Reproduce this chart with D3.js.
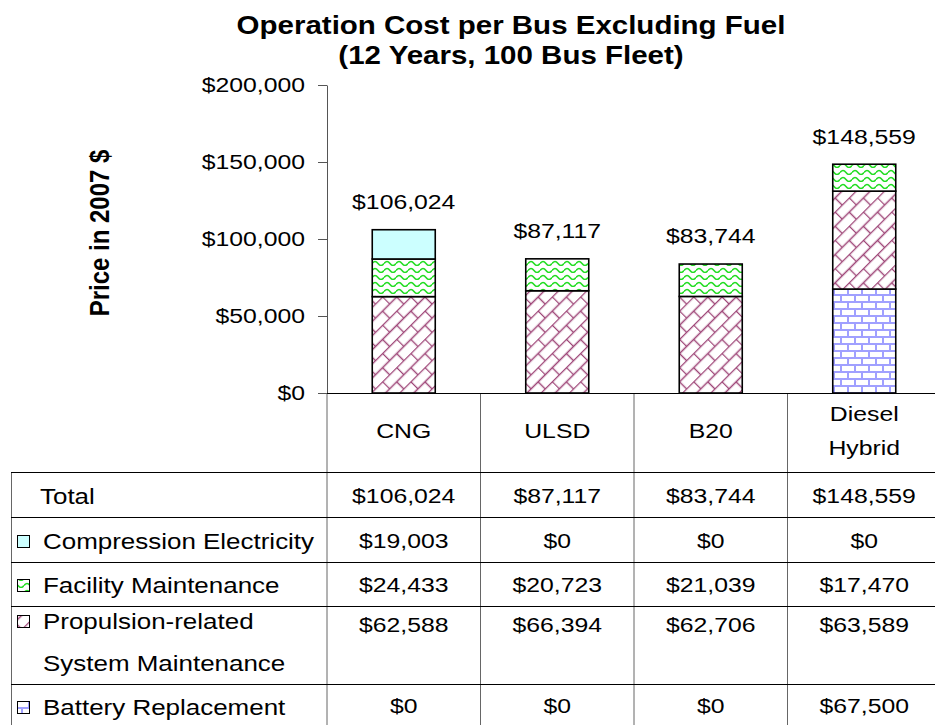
<!DOCTYPE html>
<html>
<head>
<meta charset="utf-8">
<script src="https://cdn.jsdelivr.net/npm/d3@7"></script>
<style>
  body { margin: 0; background: #fff; }
  text { font-family: "Liberation Sans", Arial, sans-serif; fill: #000; }
</style>
</head>
<body>
<svg id="chart" width="935" height="725"></svg>
<script>
// ---- data ----
var categories  = ["CNG", "ULSD", "B20", "Diesel Hybrid"];
var compression = [19003, 0, 0, 0];
var facility    = [24433, 20723, 21039, 17470];
var propulsion  = [62588, 66394, 62706, 63589];
var battery     = [0, 0, 0, 67500];
var totals      = [106024, 87117, 83744, 148559];
var yTicks      = [0, 50000, 100000, 150000, 200000];

var seriesNames = {
	compression: ["Compression Electricity"],
	facility: ["Facility Maintenance"],
	propulsion: ["Propulsion-related", "System Maintenance"],
	battery: ["Battery Replacement"]
};
var stackKeys = ["battery", "propulsion", "facility", "compression"];   // bottom -> top
var tableKeys = ["compression", "facility", "propulsion", "battery"];   // table order

var rows = categories.map(function(c, i) {
	return { cat: c, compression: compression[i], facility: facility[i],
		propulsion: propulsion[i], battery: battery[i], total: totals[i] };
});

// ---- layout ----
var SX = 1.18;               // the original is stretched horizontally
var svg = d3.select("#chart");
var fmt = d3.format("$,");

var x = d3.scaleBand().domain(categories).range([327, 941]);
var y = d3.scaleLinear().domain([0, 200000]).range([393, 85]);
var barW = 63;

// patterns
var defs = svg.append("defs");
var pw = defs.append("pattern").attr("id", "pat-facility")
	.attr("patternUnits", "userSpaceOnUse").attr("width", 12).attr("height", 7);
pw.append("rect").attr("width", 12).attr("height", 7).attr("fill", "#fff");
pw.append("path").attr("d", "M0,4.5 Q3,0.5 6,4.5 T12,4.5")
	.attr("fill", "none").attr("stroke", "#22dd22").attr("stroke-width", 1.5);

var pp = defs.append("pattern").attr("id", "pat-propulsion")
	.attr("patternUnits", "userSpaceOnUse").attr("width", 20).attr("height", 20)
	.attr("patternTransform", "rotate(-45)");
pp.append("rect").attr("width", 20).attr("height", 20).attr("fill", "#fff");
pp.append("path").attr("d", "M0,0.5H20M0,10.5H20M0.5,0V10M10.5,10V20")
	.attr("fill", "none").attr("stroke", "#9e4577").attr("stroke-width", 1.4);

var pb = defs.append("pattern").attr("id", "pat-battery")
	.attr("patternUnits", "userSpaceOnUse").attr("width", 14).attr("height", 14);
pb.append("rect").attr("width", 14).attr("height", 14).attr("fill", "#fff");
pb.append("path").attr("d", "M0,1H14M0,8H14M1,1V8M8,8V14")
	.attr("fill", "none").attr("stroke", "#a0a0ff").attr("stroke-width", 2);

var fills = {
	compression: "#ccffff",
	facility: "url(#pat-facility)",
	propulsion: "url(#pat-propulsion)",
	battery: "url(#pat-battery)"
};

function stext(g, px, py, txt, size, anchor, weight) {
	return g.append("text")
		.attr("transform", "translate(" + px + "," + py + ") scale(" + SX + ",1)")
		.attr("text-anchor", anchor || "middle")
		.attr("dy", "0.35em")
		.style("font-size", size + "px")
		.style("font-weight", weight || "normal")
		.text(txt);
}

// ---- title ----
stext(svg, 511, 25, "Operation Cost per Bus Excluding Fuel", 25, "middle", "bold");
stext(svg, 511, 55, "(12 Years, 100 Bus Fleet)", 25, "middle", "bold");

svg.append("text")
	.attr("transform", "translate(99,233) scale(" + SX + ",1) rotate(-90)")
	.attr("text-anchor", "middle")
	.attr("dy", "0.35em")
	.style("font-size", "24px")
	.style("font-weight", "bold")
	.text("Price in 2007 $");

// ---- stacked bars ----
var stack = d3.stack().keys(stackKeys)(rows);
var layer = svg.append("g").selectAll("g")
	.data(stack)
	.enter().append("g")
		.attr("fill", function(d) { return fills[d.key]; });

layer.selectAll("rect")
	.data(function(d) { return d; })
	.enter().append("rect")
		.filter(function(d) { return d[1] - d[0] > 0; })
		.attr("x", function(d) { return x(d.data.cat) + (x.bandwidth() - barW) / 2; })
		.attr("y", function(d) { return y(d[1]); })
		.attr("width", barW)
		.attr("height", function(d) { return y(d[0]) - y(d[1]); })
		.attr("stroke", "#000")
		.attr("stroke-width", 1.6);

var lbl = svg.append("g");
rows.forEach(function(r) {
	stext(lbl, x(r.cat) + x.bandwidth() / 2, y(r.total) - 28, fmt(r.total), 21);
});

// ---- y axis ----
var axis = svg.append("g").attr("transform", "translate(327,0)")
	.call(d3.axisLeft(y).tickValues(yTicks).tickFormat(fmt).tickSize(9).tickSizeOuter(0));
axis.attr("font-size", null).attr("font-family", null);
axis.select(".domain").attr("stroke", "#555");
axis.selectAll(".tick line").attr("stroke", "#555");
axis.selectAll(".tick text")
	.attr("x", -22 / SX)
	.attr("transform", "scale(" + SX + ",1)")
	.style("font-size", "21px");

// ---- data table ----
var tbl = svg.append("g");
var rowTops = [472, 517, 562, 606, 684, 729];
var xs = categories.map(function(c) { return x(c); }).concat([x.range()[1]]);

// grid
xs.forEach(function(v) {
	tbl.append("line").attr("x1", v).attr("x2", v).attr("y1", 393).attr("y2", 729)
		.attr("stroke", "#666");
});
tbl.append("line").attr("x1", 327).attr("x2", 941).attr("y1", 393.5).attr("y2", 393.5).attr("stroke", "#000");
tbl.append("line").attr("x1", 11.5).attr("x2", 11.5).attr("y1", 472).attr("y2", 729).attr("stroke", "#666");
rowTops.slice(0, 5).forEach(function(v) {
	tbl.append("line").attr("x1", 11).attr("x2", 941).attr("y1", v + 0.5).attr("y2", v + 0.5)
		.attr("stroke", "#000");
});

// header
categories.forEach(function(c) {
	var cx = x(c) + x.bandwidth() / 2;
	var parts = c.split(" ");
	parts.forEach(function(p, k) {
		stext(tbl, cx, 431 + (k - (parts.length - 1) / 2) * 34, p, 21);
	});
});

// total row
stext(tbl, 40, 496, "Total", 22, "start");
rows.forEach(function(r) {
	stext(tbl, x(r.cat) + x.bandwidth() / 2, 496, fmt(r.total), 21);
});

// series rows
var lineY = { compression: [541], facility: [585], propulsion: [621, 663], battery: [707] };
var valY = { compression: 541, facility: 585, propulsion: 625, battery: 706 };
tableKeys.forEach(function(k) {
	var ly = lineY[k];
	tbl.append("rect")
		.attr("x", 17.5).attr("y", ly[0] - 5.5).attr("width", 12).attr("height", 12)
		.attr("fill", fills[k]).attr("stroke", "#000").attr("stroke-width", 1);
	seriesNames[k].forEach(function(t, j) {
		stext(tbl, 43, ly[j], t, 22, "start");
	});
	rows.forEach(function(r) {
		stext(tbl, x(r.cat) + x.bandwidth() / 2, valY[k], fmt(r[k]), 21);
	});
});
</script>
</body>
</html>
